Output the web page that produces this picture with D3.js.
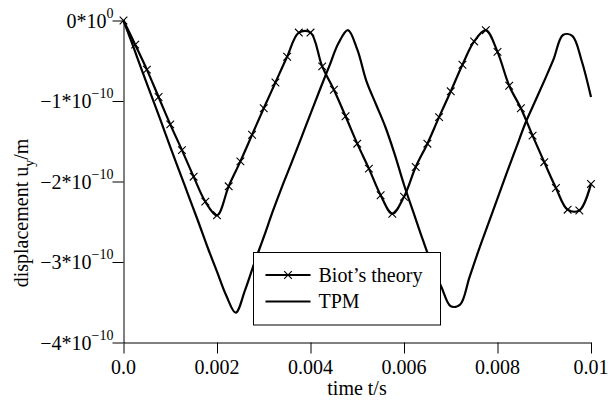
<!DOCTYPE html>
<html>
<head>
<meta charset="utf-8">
<script src="https://cdn.jsdelivr.net/npm/d3@7"></script>
</head>
<body style="margin:0">
<svg width="610" height="416"></svg>
<script>
var serifFont = "'Liberation Serif'";

// time in s, displacement in units of 1e-10 m
var biotTime = [0, 0.00025, 0.0005, 0.00075, 0.001, 0.00125, 0.0015, 0.00175, 0.002, 0.00225,
    0.0025, 0.00275, 0.003, 0.00325, 0.0035, 0.00375, 0.004, 0.00425, 0.0045, 0.00475,
    0.005, 0.00525, 0.0055, 0.00575, 0.006, 0.00625, 0.0065, 0.00675, 0.007, 0.00725,
    0.0075, 0.00775, 0.008, 0.00825, 0.0085, 0.00875, 0.009, 0.00925, 0.0095, 0.00975, 0.01];
var biotDisp = [0, -0.30, -0.61, -0.95, -1.29, -1.61, -1.94, -2.25, -2.42, -2.06,
    -1.75, -1.42, -1.09, -0.77, -0.45, -0.15, -0.15, -0.57, -0.86, -1.19,
    -1.53, -1.84, -2.17, -2.40, -2.19, -1.82, -1.53, -1.20, -0.88, -0.55,
    -0.26, -0.12, -0.39, -0.81, -1.09, -1.43, -1.76, -2.08, -2.35, -2.36, -2.03];

var tpmTime = [0, 0.0002, 0.0004, 0.0006, 0.0008, 0.001, 0.0012, 0.0014, 0.0016, 0.0018,
    0.002, 0.0022, 0.0024, 0.0026, 0.0028, 0.003, 0.0032, 0.0034, 0.0036, 0.0038,
    0.004, 0.0042, 0.0044, 0.0046, 0.0048, 0.005, 0.0052, 0.0054, 0.0056, 0.0058,
    0.006, 0.0062, 0.0064, 0.0066, 0.0068, 0.007, 0.0072, 0.0074, 0.0076, 0.0078,
    0.008, 0.0082, 0.0084, 0.0086, 0.0088, 0.009, 0.0092, 0.0094, 0.0096, 0.0098, 0.01];
var tpmDisp = [0, -0.31, -0.63, -0.94, -1.25, -1.57, -1.88, -2.19, -2.50, -2.82,
    -3.12, -3.42, -3.63, -3.35, -3.01, -2.69, -2.36, -2.05, -1.76, -1.46,
    -1.16, -0.86, -0.57, -0.28, -0.12, -0.36, -0.76, -1.04, -1.32, -1.66,
    -2.04, -2.38, -2.72, -3.04, -3.31, -3.55, -3.53, -3.19, -2.85, -2.53,
    -2.21, -1.89, -1.58, -1.27, -1.01, -0.75, -0.48, -0.18, -0.19, -0.50, -0.95];

var xTicks = [0, 0.002, 0.004, 0.006, 0.008, 0.01];
var xTickLabels = ["0.0", "0.002", "0.004", "0.006", "0.008", "0.01"];
var yTicks = [0, -1, -2, -3, -4];
var yTickBase = ["0*10", "\u22121*10", "\u22122*10", "\u22123*10", "\u22124*10"];
var yTickExp = ["0", "\u221210", "\u221210", "\u221210", "\u221210"];

var seriesNames = ["Biot\u2019s theory", "TPM"];

//----------------------------------------------------------------------------------------------------------------------
// scales
//----------------------------------------------------------------------------------------------------------------------
var svg = d3.select("svg");

var x = d3.scaleLinear().domain([0, 0.01]).range([123.5, 591]);
var y = d3.scaleLinear().domain([-4, 0]).range([342.5, 20.5]);

//----------------------------------------------------------------------------------------------------------------------
// lines
//----------------------------------------------------------------------------------------------------------------------
var line = d3.line()
    .x(d => x(d[0]))
    .y(d => y(d[1]))
    .curve(d3.curveCatmullRom);

var biot = biotTime.map((t, i) => [t, biotDisp[i]]);
var tpm = tpmTime.map((t, i) => [t, tpmDisp[i]]);

svg.append("path")
    .datum(tpm)
    .attr("fill", "none")
    .attr("stroke", "#000")
    .attr("stroke-width", 2.2)
    .attr("d", line);

svg.append("path")
    .datum(biot)
    .attr("fill", "none")
    .attr("stroke", "#000")
    .attr("stroke-width", 2.2)
    .attr("d", line);

var cross = d3.symbol().type(d3.symbolX).size(40);

svg.append("g").selectAll("path")
    .data(biot)
    .join("path")
    .attr("transform", d => "translate(" + x(d[0]) + "," + y(d[1]) + ")")
    .attr("d", cross)
    .attr("fill", "none")
    .attr("stroke", "#000")
    .attr("stroke-width", 1.1);

//----------------------------------------------------------------------------------------------------------------------
// axes (tick lines from d3, labels as plain texts)
//----------------------------------------------------------------------------------------------------------------------
var xAxis = svg.append("g")
    .attr("transform", "translate(0," + y(-4) + ")")
    .call(d3.axisBottom(x)
        .tickValues(xTicks)
        .tickSize(11)
        .tickSizeOuter(0)
        .tickFormat(""));

var yAxis = svg.append("g")
    .attr("transform", "translate(" + x(0) + ",0)")
    .call(d3.axisLeft(y)
        .tickValues(yTicks)
        .tickSize(11)
        .tickSizeOuter(0)
        .tickFormat(""));

svg.selectAll(".domain, .tick line").attr("stroke", "#000").attr("stroke-width", 1);
svg.selectAll(".tick text").remove();

svg.selectAll("text.xlab")
    .data(xTicks)
    .join("text")
    .attr("class", "xlab")
    .attr("x", d => x(d))
    .attr("y", 374)
    .attr("text-anchor", "middle")
    .style("font-family", serifFont)
    .style("font-size", "20px")
    .text((d, i) => xTickLabels[i]);

var ylab = svg.selectAll("text.ylab")
    .data(yTicks)
    .join("text")
    .attr("class", "ylab")
    .attr("x", x(0) - 10)
    .attr("y", d => y(d) + 7)
    .attr("text-anchor", "end")
    .style("font-family", serifFont)
    .style("font-size", "20px");
ylab.append("tspan").text((d, i) => yTickBase[i]);
ylab.append("tspan")
    .attr("dy", -10)
    .style("font-size", "14px")
    .text((d, i) => yTickExp[i]);

// axis titles
svg.append("text")
    .attr("x", 357)
    .attr("y", 395)
    .attr("text-anchor", "middle")
    .style("font-family", serifFont)
    .style("font-size", "20px")
    .text("time t/s");

var yl = svg.append("text")
    .attr("transform", "translate(28,213) rotate(-90)")
    .attr("text-anchor", "middle")
    .style("font-family", serifFont)
    .style("font-size", "20px");
yl.append("tspan").text("displacement u");
yl.append("tspan").style("font-size", "14px").attr("dy", 6).text("y");
yl.append("tspan").attr("dy", -6).text("/m");

//----------------------------------------------------------------------------------------------------------------------
// legend
//----------------------------------------------------------------------------------------------------------------------
var legend = svg.append("g").attr("transform", "translate(253.5,252.5)");
legend.append("rect")
    .attr("width", 187)
    .attr("height", 72.5)
    .attr("fill", "#fff")
    .attr("stroke", "#000")
    .attr("stroke-width", 1);

legend.selectAll("line")
    .data(seriesNames)
    .join("line")
    .attr("x1", 12).attr("x2", 57)
    .attr("y1", (d, i) => 22.5 + i * 26.5)
    .attr("y2", (d, i) => 22.5 + i * 26.5)
    .attr("stroke", "#000")
    .attr("stroke-width", 2.2);

legend.append("path")
    .attr("transform", "translate(34.5,22.5)")
    .attr("d", cross)
    .attr("fill", "none")
    .attr("stroke", "#000")
    .attr("stroke-width", 1.1);

legend.selectAll("text")
    .data(seriesNames)
    .join("text")
    .attr("x", 65)
    .attr("y", (d, i) => 29 + i * 26.5)
    .style("font-family", serifFont)
    .style("font-size", "20px")
    .text(d => d);

// re-apply the family once the local font is confirmed
if (document.fonts && document.fonts.load) {
    document.fonts.load("20px 'Liberation Serif'").then(function() {
        svg.selectAll("text").style("font-family", serifFont);
    });
}
</script>
</body>
</html>
